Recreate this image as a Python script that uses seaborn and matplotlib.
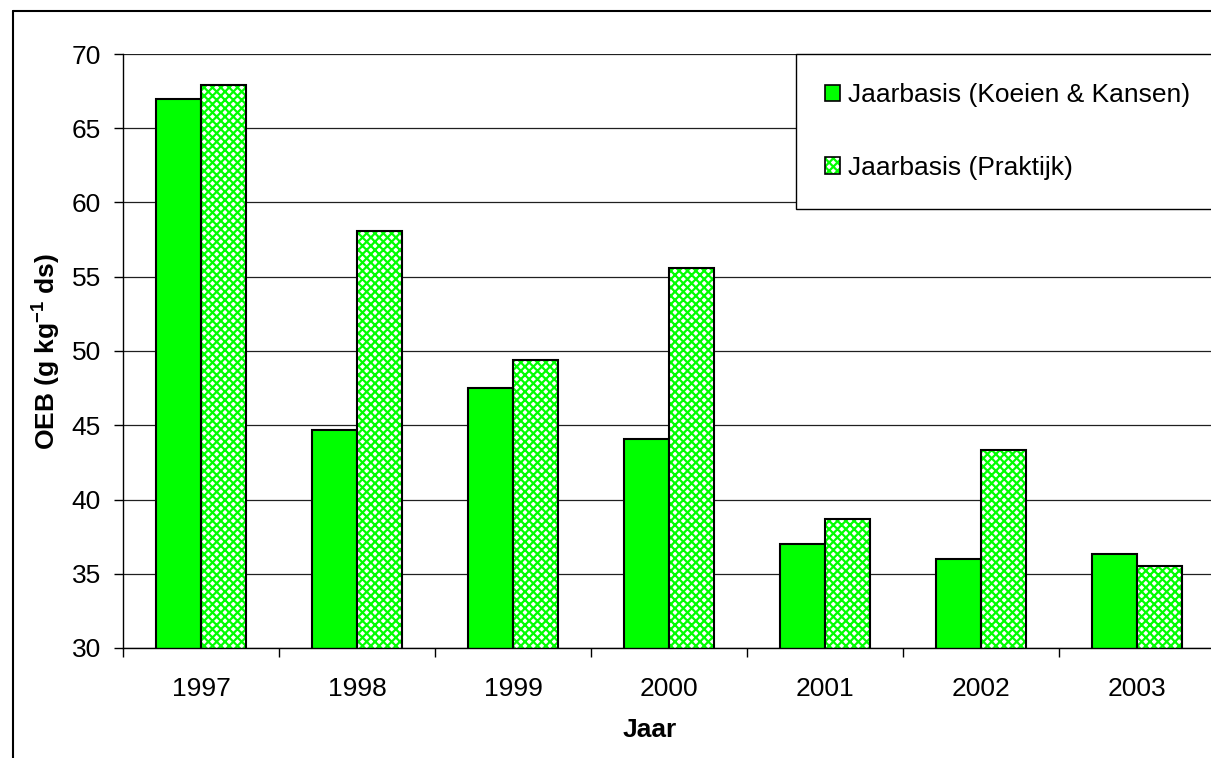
import matplotlib
matplotlib.use("Agg")
import matplotlib.pyplot as plt
from matplotlib.lines import Line2D
from matplotlib.patches import Patch, Rectangle
from matplotlib.legend_handler import HandlerTuple
import seaborn as sns
import pandas as pd

# Data
years = ["1997", "1998", "1999", "2000", "2001", "2002", "2003"]
koeien_kansen = [67.0, 44.7, 47.5, 44.1, 37.0, 36.0, 36.3]
praktijk = [67.9, 58.1, 49.4, 55.6, 38.7, 43.3, 35.5]
series_names = ["Jaarbasis (Koeien & Kansen)", "Jaarbasis (Praktijk)"]
y_ticks = [30, 35, 40, 45, 50, 55, 60, 65, 70]

GREEN = "#00ff00"
HATCH = "xxxx"
FS = 19

sns.set_theme(style="white")
plt.rcParams["font.family"] = ["Liberation Sans", "DejaVu Sans"]
plt.rcParams["hatch.linewidth"] = 1.6
for key in ["text.color", "axes.labelcolor", "xtick.color", "ytick.color"]:
    plt.rcParams[key] = "black"

df = pd.DataFrame({
    "Jaar": years * 2,
    "OEB": koeien_kansen + praktijk,
    "Serie": [series_names[0]] * len(years) + [series_names[1]] * len(years),
})

fig = plt.figure(figsize=(12.11, 7.58), dpi=100)
# The plot area runs on past the right edge of the figure
ax = fig.add_axes([123 / 1211, 1 - 648 / 758, 1092 / 1211, 594 / 758])

sns.barplot(data=df, x="Jaar", y="OEB", hue="Serie", hue_order=series_names,
            palette=[GREEN, "#ffffff"], saturation=1, width=0.58, gap=0,
            edgecolor="black", linewidth=1.5, legend=False, ax=ax)

# Patterned fill for the second series: green hatch on white, black outline on top
for bar in ax.containers[1]:
    bar.set_facecolor("white")
    bar.set_edgecolor(GREEN)
    bar.set_hatch(HATCH)
    bar.set_linewidth(0)
    outline = Rectangle((bar.get_x(), bar.get_y()), bar.get_width(), bar.get_height(),
                        fill=False, edgecolor="black", linewidth=1.5,
                        zorder=bar.get_zorder() + 0.1)
    ax.add_patch(outline)

ax.set_ylim(30, 70)
ax.set_xlim(-0.5, len(years) - 0.5)
ax.set_yticks(y_ticks)
ax.yaxis.grid(True, color="#202020", linewidth=0.9)
ax.set_axisbelow(True)

for s in ["top", "right"]:
    ax.spines[s].set_visible(False)
for s in ["left", "bottom"]:
    ax.spines[s].set_color("black")
    ax.spines[s].set_linewidth(1.0)

ax.tick_params(axis="y", which="major", direction="out", length=6.5, width=1,
               color="black", pad=9.5, labelsize=FS, left=True)
ax.tick_params(axis="x", which="major", length=0, pad=21, labelsize=FS)
ax.set_xticks([i - 0.5 for i in range(len(years) + 1)], minor=True)
ax.tick_params(axis="x", which="minor", direction="out", length=6.5, width=1,
               color="black", bottom=True)

ax.set_xlabel("Jaar", fontsize=FS, fontweight="bold")
ax.set_ylabel(r"OEB (g kg$^{\mathregular{-1}}$ ds)", fontsize=FS, fontweight="bold")
ax.xaxis.set_label_coords(1211 / 1092 * (650 - 123) / 1211, -0.118)
ax.yaxis.set_label_coords((62 - 123) / 1092, 0.5)

# Legend
h1 = Patch(facecolor=GREEN, edgecolor="black", linewidth=1.2)
h2 = (Patch(facecolor="white", edgecolor=GREEN, hatch=HATCH, linewidth=0),
      Patch(fill=False, edgecolor="black", linewidth=1.2))
leg = fig.legend([h1, h2], series_names, loc="upper left",
                 bbox_to_anchor=(796 / 1211, 1 - 54 / 758),
                 bbox_transform=fig.transFigure, borderaxespad=0,
                 fontsize=FS, frameon=True, fancybox=False, shadow=False,
                 framealpha=1, borderpad=1.1, labelspacing=1.85,
                 handlelength=0.56, handleheight=0.56, handletextpad=0.3,
                 handler_map={tuple: HandlerTuple(ndivide=1, pad=0)})
leg.get_frame().set_edgecolor("black")
leg.get_frame().set_linewidth(1.0)

# Outer frame around the figure
fig.add_artist(Line2D([13 / 1211, 13 / 1211], [0, 1 - 11 / 758],
                      transform=fig.transFigure, color="black", linewidth=1.5))
fig.add_artist(Line2D([13 / 1211, 1], [1 - 11 / 758, 1 - 11 / 758],
                      transform=fig.transFigure, color="black", linewidth=1.5))

fig.savefig("out.png", dpi=100)
